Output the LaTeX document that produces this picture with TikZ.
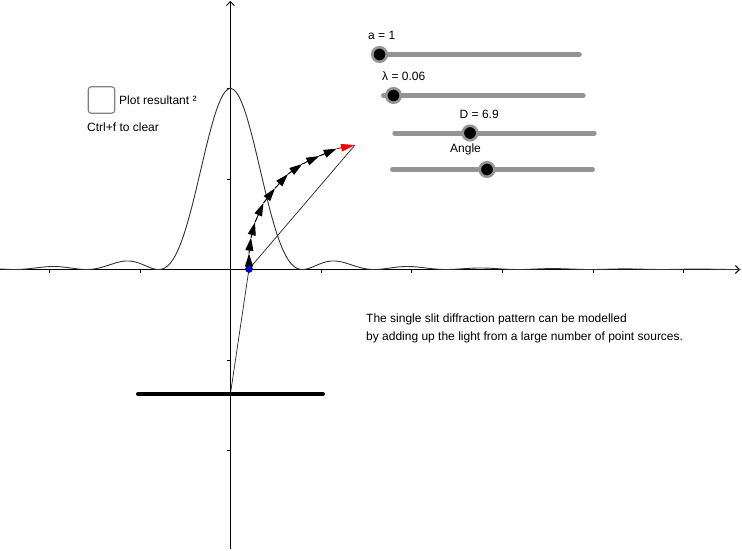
\documentclass[tikz,border=0pt]{standalone}
\usepackage{fontspec}
\setmainfont{Liberation Sans}
\usetikzlibrary{arrows.meta}
\tikzset{
  axisline/.style={line width=0.9pt,black},
  tickmark/.style={line width=0.7pt,black},
  curveline/.style={line width=0.9pt,black!80},
  thinline/.style={line width=0.7pt,black!85},
  vectorline/.style={line width=1pt,black,-{Triangle[length=13pt,width=8pt]}},
  redvector/.style={line width=1pt,red,-{Triangle[length=14pt,width=7.5pt]}},
  track/.style={line width=5pt,black!42,line cap=round},
  knob/.style={circle,fill=black,draw=black!42,line width=2.6pt,minimum size=14.5pt,inner sep=0pt},
  label/.style={anchor=base west,inner sep=0pt,font=\fontsize{12}{14}\selectfont},
  dot/.style={circle,fill=blue!90!black,draw=black,line width=0.5pt,minimum size=7pt,inner sep=0pt},
  slitbar/.style={line width=4pt,black,line cap=round},
  checkbox/.style={draw=black!50,line width=1.1pt,rounded corners=3pt,minimum size=26.5pt,inner sep=0pt,fill=white}
}
\begin{document}
\begin{tikzpicture}[x=1pt,y=-1pt]
\useasboundingbox[fill=white] (0,0) rectangle (742,551);
% axes
\coordinate (xstart) at (0,269.5);
\coordinate (xend) at (740,269.5);
\coordinate (ystart) at (230.4,549);
\coordinate (yend) at (230.4,1);
\draw[axisline,-{Straight Barb[length=4pt,width=8pt]}] (xstart) -- (xend);
\draw[axisline,-{Straight Barb[length=4pt,width=8pt]}] (ystart) -- (yend);
\foreach \k in {-2,-1,1,2,3,4,5} \draw[tickmark] ({230.5+90.6*\k},269.5) -- ++(0,3.5);
\foreach \k in {-3,-2,-1,1,2} \draw[tickmark] (230.4,{269.5+90.5*\k}) -- ++(-3.5,0);
% curve
\draw[curveline] plot[domain=-230.01:510.01,samples=500,smooth] (\x+230.5,{269.5-181*pow(sin(2.5*\x)/(2.5*\x*0.0174533),2)});
% slit
\coordinate (slitl) at (138,394);
\coordinate (slitr) at (323,394);
\coordinate (slitc) at (230.4,394);
\draw[slitbar] (slitl) -- (slitr);
% phasor chain
\coordinate (P0) at (249,269);
\coordinate (P1) at (249,253.5);
\coordinate (P2) at (251,237.7);
\coordinate (P3) at (255,222.3);
\coordinate (P4) at (263.5,203);
\coordinate (P5) at (275,188.3);
\coordinate (P6) at (288,174);
\coordinate (P7) at (302.3,164);
\coordinate (P8) at (319.3,156);
\coordinate (P9) at (336.7,148.7);
\coordinate (P10) at (355,145);
\draw[thinline] (slitc) -- (P0);
\draw[thinline] (P0) -- (P10);
\foreach \a/\b in {0/1,1/2,2/3,3/4,4/5,5/6,6/7,7/8,8/9} \draw[vectorline] (P\a) -- (P\b);
\draw[redvector] (P9) -- (P10);
\node[dot] (origin) at (P0) {};
% sliders
\draw[track] (380,54.5) -- (579.3,54.5);
\node[knob] (ka) at (379.5,54.5) {};
\draw[track] (383.5,95.5) -- (583.2,95.5);
\node[knob] (kl) at (393.5,95.5) {};
\draw[track] (394.8,133) -- (594.2,133);
\node[knob] (kd) at (470,133) {};
\draw[track] (392.5,169.5) -- (592.5,169.5);
\node[knob] (kt) at (487,169.5) {};
\node[label] (ta) at (368,40) {a = 1};
\node[label] (tl) at (382,81) {λ = 0.06};
\node[label] (td) at (459.5,118) {D = 6.9};
\node[label] (tt) at (450,152) {Angle};
% checkbox
\node[checkbox] (cb) at (101.5,100) {};
\node[label] (plot) at (119,104) {Plot resultant ²};
\node[label] (ctrl) at (87,131) {Ctrl+f to clear};
% description
\node[label] (d1) at (366,322) {The single slit diffraction pattern can be modelled};
\node[label] (d2) at (366,340) {by adding up the light from a large number of point sources.};
\end{tikzpicture}
\end{document}
